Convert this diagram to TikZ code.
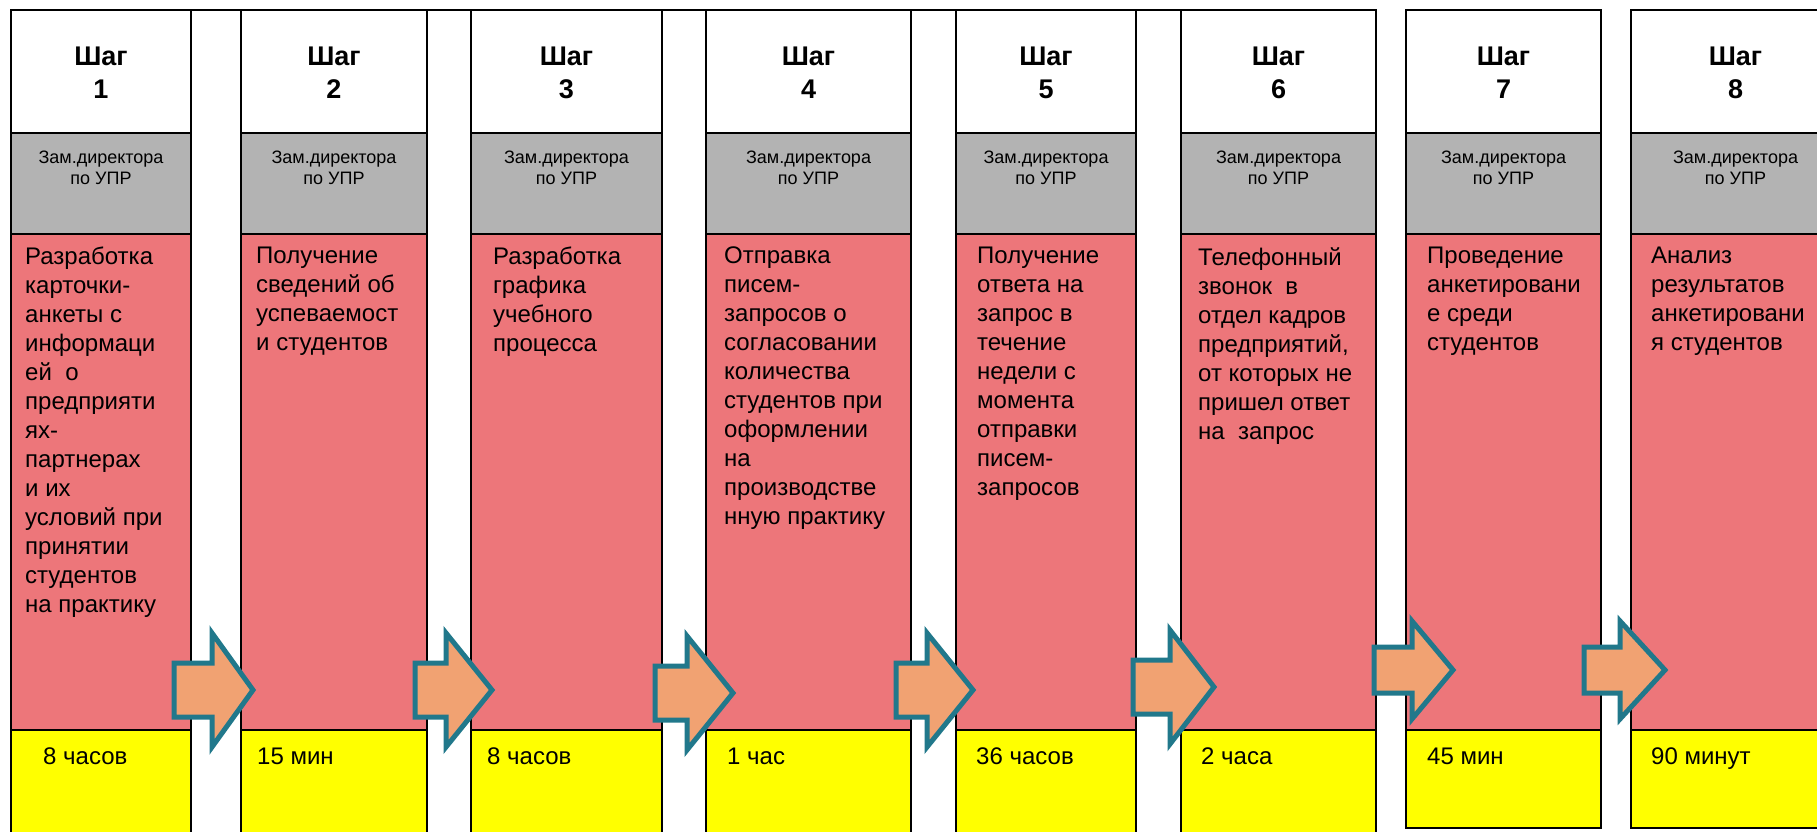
\documentclass[tikz,border=0pt]{standalone}
\usepackage{fontspec}
\setmainfont{Liberation Sans}
\definecolor{redcell}{RGB}{237,118,122}
\definecolor{graycell}{RGB}{179,179,179}
\definecolor{yelcell}{RGB}{255,255,0}
\definecolor{arrfill}{RGB}{241,162,114}
\definecolor{arrline}{RGB}{33,120,139}
\newcommand\blockarr[6]{%
  \draw[blockarrow] (#1,#4-#5) -- (#2,#4-#5) -- (#2,#4-#6) -- (#3,#4)
    -- (#2,#4+#6) -- (#2,#4+#5) -- (#1,#4+#5) -- cycle;}
\newcommand\stepcol[9]{%
  % #1 name, #2 left, #3 right, #4 bottom, #5 step no, #6 task text, #7 text pad, #8 time, #9 time pad
  \path[cellline,fill=white] (#2,10) rectangle (#3,133);
  \path[cellline,fill=graycell] (#2,133) rectangle (#3,234);
  \path[cellline,fill=redcell] (#2,234) rectangle (#3,730);
  \path[cellline,fill=yelcell] (#2,730) rectangle (#3,#4);
  \node[headtext] (#1h) at ({(#2+#3)/2},73) {Шаг\\#5};
  \node[roletext] (#1r) at ({(#2+#3)/2},168) {Зам.директора\\по УПР};
  \node[tasktext] (#1t) at (#2+#7,247) {#6};
  \node[timetext] (#1y) at (#2+#9,764) {#8};
}
\begin{document}
\begin{tikzpicture}[x=1pt,y=-1pt,
  cellline/.style={draw=black,line width=2pt},
  headtext/.style={font=\fontsize{27}{33}\selectfont\bfseries,align=center,inner sep=0pt},
  roletext/.style={font=\fontsize{18}{21.5}\selectfont,align=center,inner sep=0pt},
  tasktext/.style={font=\fontsize{24}{29}\selectfont,align=left,anchor=north west,inner sep=0pt},
  timetext/.style={font=\fontsize{24}{29}\selectfont,anchor=base west,inner sep=0pt},
  blockarrow/.style={draw=arrline,fill=arrfill,line width=5pt,line join=miter}]
\useasboundingbox (0,0) rectangle (1817,832);
\clip (0,0) rectangle (1817,832);
\fill[white] (0,0) rectangle (1817,832);
\stepcol{s1}{11}{191}{850}{1}{Разработка\\карточки-\\анкеты с\\информаци\\ей~ о\\предприяти\\ях-\\партнерах\\и их\\условий при\\принятии\\студентов\\на практику}{14}{8 часов}{32}
\stepcol{s2}{241}{427}{850}{2}{Получение\\сведений об\\успеваемост\\и студентов}{15}{15 мин}{16}
\stepcol{s3}{471}{662}{850}{3}{Разработка\\графика\\учебного\\процесса}{22}{8 часов}{16}
\stepcol{s4}{706}{911}{850}{4}{Отправка\\писем-\\запросов о\\согласовании\\количества\\студентов при\\оформлении\\на\\производстве\\нную практику}{18}{1 час}{21}
\stepcol{s5}{956}{1136}{850}{5}{Получение\\ответа на\\запрос в\\течение\\недели с\\момента\\отправки\\писем-\\запросов}{21}{36 часов}{20}
\stepcol{s6}{1181}{1376}{850}{6}{Телефонный\\звонок~ в\\отдел кадров\\предприятий,\\от которых не\\пришел ответ\\на~ запрос}{17}{2 часа}{20}
\stepcol{s7}{1406}{1601}{828}{7}{Проведение\\анкетировани\\е среди\\студентов}{21}{45 мин}{21}
\stepcol{s8}{1631}{1840}{828}{8}{Анализ\\результатов\\анкетировани\\я студентов}{20}{90 минут}{20}
% gap cells between steps 1-6
\draw[cellline] (11,10) -- (1376,10);
% arrows
\blockarr{174}{212}{253}{690}{27}{57}
\blockarr{415}{446}{492}{690}{27}{57}
\blockarr{655}{687}{733}{693}{27}{57}
\blockarr{896}{927}{973}{690}{27}{57}
\blockarr{1133}{1170}{1214}{687}{27}{57}
\blockarr{1374}{1412}{1453}{670}{23}{49}
\blockarr{1584}{1620}{1665}{670}{23}{49}
\end{tikzpicture}
\end{document}
